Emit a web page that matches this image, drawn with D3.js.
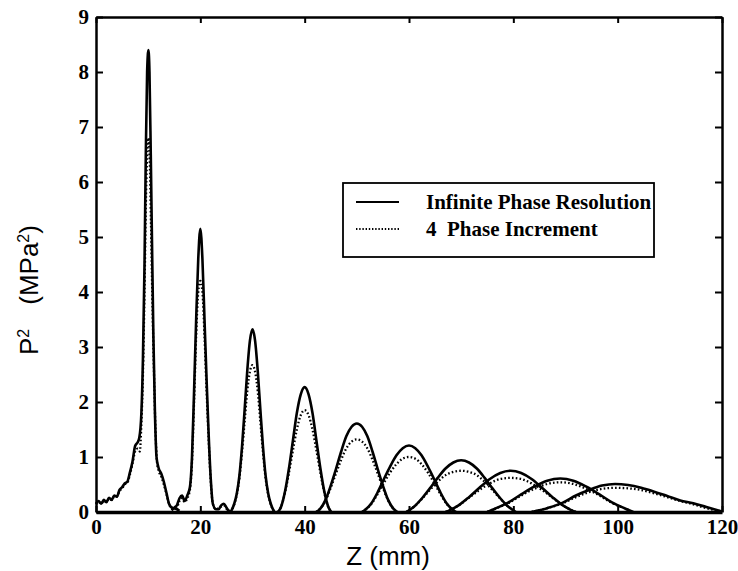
<!DOCTYPE html>
<html>
<head>
<meta charset="utf-8">
<script src="https://cdn.jsdelivr.net/npm/d3@7"></script>
<style>
  body { margin: 0; background: #fff; }
  .tick text { font-family: "Liberation Serif", "Times New Roman", serif; font-weight: bold; font-size: 21px; fill: #000; }
</style>
</head>
<body>
<svg id="chart" width="738" height="571"></svg>
<script>
// axis ticks
const xTicks = [0, 20, 40, 60, 80, 100, 120];
const yTicks = [0, 1, 2, 3, 4, 5, 6, 7, 8, 9];

// infinite phase resolution (solid), one array per focal zone: [z mm, P^2 MPa^2]
const inf10 = [[0,0.15],[0.5,0.2],[1,0.15],[1.5,0.22],[2,0.18],[2.5,0.26],[3,0.22],[3.5,0.3],[4,0.28],[4.5,0.4],[5,0.45],[5.5,0.52],[6,0.55],[6.5,0.72],[7,0.92],[7.5,1.2],[8,1.27],[8.3,1.35],[8.7,1.8],[9,2.8],[9.3,4.5],[9.55,6.5],[9.8,8.0],[10.05,8.4],[10.25,8.0],[10.5,6.5],[10.75,4.8],[11,3.2],[11.3,1.8],[11.6,1.0],[12,0.8],[12.5,0.7],[13,0.55],[13.5,0.35],[14,0.15],[14.5,0.08],[15.5,0.05],[16,0.02]];
const inf20 = [[14.5,0.03],[15,0.08],[15.5,0.12],[16,0.25],[16.5,0.3],[17,0.2],[17.5,0.3],[18,0.45],[18.4,1.0],[18.8,2.2],[19.2,3.5],[19.6,4.6],[20,5.15],[20.4,4.6],[20.8,3.5],[21.2,2.4],[21.6,1.4],[22,0.6],[22.4,0.15],[23,0.05],[23.5,0.05],[24,0.12],[24.5,0.15],[25,0.08],[25.5,0.02],[26,0]];
const inf30 = [[25.8,0],[26.5,0.15],[27,0.34],[27.5,0.67],[28,1.2],[28.5,1.87],[29,2.57],[29.5,3.11],[30,3.32],[30.5,3.11],[31,2.57],[31.5,1.87],[32,1.2],[32.5,0.67],[33,0.34],[33.5,0.15],[34.2,0]];
const inf40 = [[34.9,0],[35.5,0.1],[36.25,0.38],[37,0.8],[37.75,1.3],[38.5,1.8],[39.25,2.14],[40,2.27],[40.75,2.14],[41.5,1.8],[42.25,1.3],[43,0.8],[43.75,0.38],[44.5,0.1],[45.1,0]];
const inf50 = [[42.2,0],[43,0.06],[44,0.22],[45,0.48],[46,0.78],[47,1.1],[48,1.38],[49,1.55],[50,1.61],[51,1.55],[52,1.38],[53,1.1],[54,0.78],[55,0.48],[56,0.22],[57,0.06],[57.8,0]];
const inf60 = [[51,0],[51.6,0.04],[52.8,0.16],[54,0.36],[55.2,0.6],[56.4,0.83],[57.6,1.03],[58.8,1.16],[60,1.21],[61.2,1.16],[62.4,1.03],[63.6,0.83],[64.8,0.6],[66,0.36],[67.2,0.16],[68.4,0.04],[69,0]];
const inf70 = [[59.5,0],[60,0.03],[61,0.1],[62.5,0.25],[64,0.43],[65.5,0.62],[67,0.79],[68.5,0.9],[70,0.94],[71.5,0.9],[73,0.79],[74.5,0.62],[76,0.43],[77.5,0.25],[79,0.1],[80,0.03],[80.5,0]];
const inf80 = [[67,0],[68,0.04],[69.5,0.12],[71.5,0.27],[73.5,0.44],[75.5,0.6],[77.5,0.71],[79.5,0.75],[81.5,0.71],[83.5,0.6],[85.5,0.44],[87.5,0.27],[89.5,0.12],[91,0.04],[92,0]];
const inf90 = [[75,0],[76.5,0.06],[79,0.17],[81.5,0.32],[84,0.46],[86.5,0.57],[89,0.61],[91.5,0.57],[94,0.46],[96.5,0.32],[99,0.17],[101.5,0.06],[103,0]];
const inf100 = [[83.5,0],[86.5,0.07],[89.5,0.17],[92,0.3],[94.5,0.4],[97,0.48],[99.5,0.51],[102,0.49],[104.5,0.44],[107,0.37],[109.5,0.29],[112,0.21],[114.5,0.16],[117,0.09],[120,0.01]];

// 4 phase increment (dotted)
const ph10 = [[0,0.14],[0.5,0.18],[1,0.15],[1.5,0.2],[2,0.18],[2.5,0.24],[3,0.22],[3.5,0.28],[4,0.28],[4.5,0.38],[5,0.43],[5.5,0.5],[6,0.53],[6.5,0.68],[7,0.88],[7.5,1.1],[8,1.15],[8.4,1.1],[8.7,1.6],[9,2.5],[9.3,4.0],[9.6,5.8],[9.85,6.6],[10.05,6.8],[10.3,6.4],[10.55,5.2],[10.8,3.9],[11.1,2.6],[11.4,1.5],[11.7,0.9],[12,0.75],[12.5,0.65],[13,0.5],[13.5,0.33],[14,0.15],[14.5,0.07],[15,0.1],[15.5,0.05],[16,0.02]];
const ph20 = [[15.5,0.05],[16,0.2],[16.5,0.25],[17,0.18],[17.5,0.25],[18,0.4],[18.4,0.9],[18.8,2.0],[19.2,3.2],[19.6,4.0],[20,4.2],[20.4,4.0],[20.8,3.2],[21.2,2.2],[21.6,1.3],[22,0.55],[22.4,0.15],[23,0.05],[24,0.1],[24.5,0.12],[25,0.06],[26,0]];
const ph30 = [[25.8,0],[26.5,0.14],[27,0.32],[27.5,0.62],[28,1.1],[28.5,1.65],[29,2.2],[29.5,2.55],[30,2.67],[30.5,2.55],[31,2.2],[31.5,1.65],[32,1.1],[32.5,0.62],[33,0.32],[33.5,0.14],[34.2,0]];
const ph40 = [[34.9,0],[35.5,0.1],[36.25,0.36],[37,0.72],[37.75,1.12],[38.5,1.5],[39.25,1.76],[40,1.85],[40.75,1.76],[41.5,1.5],[42.25,1.12],[43,0.72],[43.75,0.36],[44.5,0.1],[45.1,0]];
const ph50 = [[42.2,0],[43,0.06],[44,0.21],[45,0.44],[46,0.7],[47,0.95],[48,1.16],[49,1.28],[50,1.32],[51,1.28],[52,1.16],[53,0.95],[54,0.7],[55,0.44],[56,0.21],[57,0.06],[57.8,0]];
const ph60 = [[51,0],[51.6,0.04],[52.8,0.15],[54,0.33],[55.2,0.53],[56.4,0.72],[57.6,0.87],[58.8,0.97],[60,1.0],[61.2,0.97],[62.4,0.87],[63.6,0.72],[64.8,0.53],[66,0.33],[67.2,0.15],[68.4,0.04],[69,0]];
const ph70 = [[59.5,0],[60,0.03],[61,0.1],[62.5,0.24],[64,0.4],[65.5,0.55],[67,0.67],[68.5,0.73],[70,0.75],[71.5,0.73],[73,0.67],[74.5,0.55],[76,0.4],[77.5,0.24],[79,0.1],[80,0.03],[80.5,0]];
const ph80 = [[67,0],[68,0.04],[69.5,0.12],[71.5,0.26],[73.5,0.4],[75.5,0.52],[77.5,0.6],[79.5,0.62],[81.5,0.6],[83.5,0.52],[85.5,0.4],[87.5,0.26],[89.5,0.12],[91,0.04],[92,0]];
const ph90 = [[75,0],[76.5,0.06],[79,0.16],[81.5,0.3],[84,0.42],[86.5,0.51],[89,0.54],[91.5,0.51],[94,0.42],[96.5,0.3],[99,0.16],[101.5,0.06],[103,0]];
const ph100 = [[83.5,0],[86.5,0.07],[89.5,0.16],[92,0.27],[94.5,0.36],[97,0.42],[99.5,0.44],[102,0.43],[104.5,0.4],[107,0.34],[109.5,0.27],[112,0.2],[114.5,0.14],[117,0.07],[120,0.01]];

const infiniteSeries = [inf10, inf20, inf30, inf40, inf50, inf60, inf70, inf80, inf90, inf100];
const phaseSeries = [ph10, ph20, ph30, ph40, ph50, ph60, ph70, ph80, ph90, ph100];
const legendLabels = ["Infinite Phase Resolution", "4  Phase Increment"];

const svg = d3.select("#chart");
const width = 738, height = 571;
const margin = { top: 17, right: 16, bottom: 59, left: 96 };

const x = d3.scaleLinear().domain([0, 120]).range([margin.left, width - margin.right]);
const y = d3.scaleLinear().domain([0, 9]).range([height - margin.bottom, margin.top]);

const line = d3.line()
  .x(d => x(d[0]))
  .y(d => y(d[1]))
  .curve(d3.curveMonotoneX);

// curves
svg.append("g").selectAll("path")
  .data(phaseSeries)
  .enter()
  .append("path")
  .attr("d", line)
  .attr("fill", "none")
  .attr("stroke", "#000")
  .attr("stroke-width", 2.3)
  .attr("stroke-dasharray", "1.6 2.2");

svg.append("g").selectAll("path")
  .data(infiniteSeries)
  .enter()
  .append("path")
  .attr("d", line)
  .attr("fill", "none")
  .attr("stroke", "#000")
  .attr("stroke-width", 2.6)
  .attr("stroke-linejoin", "round");

// axes: inward ticks on all four sides
const xAxis = svg.append("g")
  .attr("transform", `translate(0,${y(0)})`)
  .call(d3.axisBottom(x).tickValues(xTicks).tickSize(-6).tickSizeOuter(0).tickPadding(7));

const yAxis = svg.append("g")
  .attr("transform", `translate(${x(0)},0)`)
  .call(d3.axisLeft(y).tickValues(yTicks).tickSize(-7).tickSizeOuter(0).tickPadding(7));

svg.append("g")
  .attr("transform", `translate(0,${y(9)})`)
  .call(d3.axisTop(x).tickValues(xTicks).tickSize(-6).tickSizeOuter(0).tickFormat(""));

svg.append("g")
  .attr("transform", `translate(${x(120)},0)`)
  .call(d3.axisRight(y).tickValues(yTicks).tickSize(-7).tickSizeOuter(0).tickFormat(""));

svg.selectAll(".domain").attr("stroke", "#000").attr("stroke-width", 2.5);
svg.selectAll(".tick line").attr("stroke", "#000").attr("stroke-width", 2);
xAxis.select(".domain").attr("stroke-width", 3.5);

// axis titles
svg.append("text")
  .attr("x", 388)
  .attr("y", 565)
  .attr("text-anchor", "middle")
  .style("font-family", "'Liberation Sans', Arial, sans-serif")
  .style("font-size", "26px")
  .text("Z (mm)");

const yTitle = svg.append("text")
  .attr("transform", "translate(38,355) rotate(-90)")
  .style("font-family", "'Liberation Sans', Arial, sans-serif")
  .style("font-size", "26px");
yTitle.append("tspan").text("P");
yTitle.append("tspan").attr("dy", -9).style("font-size", "16px").text("2");
yTitle.append("tspan").attr("dy", 9).attr("dx", 24).text("(MPa");
yTitle.append("tspan").attr("dy", -9).style("font-size", "16px").text("2");
yTitle.append("tspan").attr("dy", 9).text(")");

// legend
const legend = svg.append("g");
legend.append("rect")
  .attr("x", 343).attr("y", 183)
  .attr("width", 311).attr("height", 74)
  .attr("fill", "#fff")
  .attr("stroke", "#000")
  .attr("stroke-width", 1.8);

const rowY = [202, 229];
legend.selectAll("line.key")
  .data(legendLabels)
  .enter()
  .append("line")
  .attr("class", "key")
  .attr("x1", 356).attr("x2", 399)
  .attr("y1", (d, i) => rowY[i]).attr("y2", (d, i) => rowY[i])
  .attr("stroke", "#000")
  .attr("stroke-width", (d, i) => i === 0 ? 2.2 : 1.8)
  .attr("stroke-dasharray", (d, i) => i === 0 ? null : "1.4 1.8");

legend.selectAll("text")
  .data(legendLabels)
  .enter()
  .append("text")
  .attr("x", 426)
  .attr("y", (d, i) => rowY[i] + 7)
  .attr("xml:space", "preserve")
  .style("font-family", "'Liberation Serif', 'Times New Roman', serif")
  .style("font-weight", "bold")
  .style("font-size", "21px")
  .text(d => d);
</script>
</body>
</html>
